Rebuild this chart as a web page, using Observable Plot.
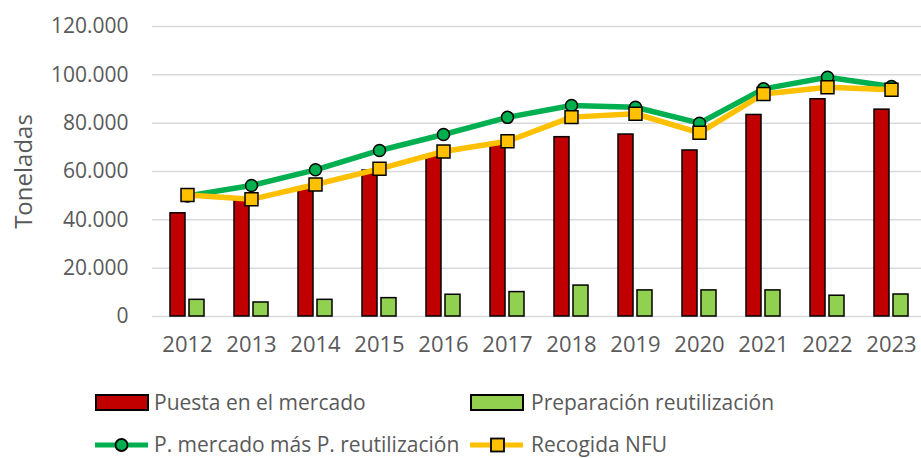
<!DOCTYPE html>
<html>
<head>
<meta charset="utf-8">
<script src="https://cdn.jsdelivr.net/npm/d3@7"></script>
<script src="https://cdn.jsdelivr.net/npm/@observablehq/plot@0.6"></script>
<style>
  html, body { margin: 0; padding: 0; background: white; overflow: hidden; width: 921px; height: 458px; }
  #chart { position: relative; width: 921px; height: 458px; }
  .leg { position: absolute; font-family: "Open Sans", sans-serif; font-size: 21px; color: #595959; white-space: nowrap; line-height: 24px; }
  .sw { position: absolute; }
</style>
</head>
<body>
<div id="chart"></div>
<script>
const years = ["2012","2013","2014","2015","2016","2017","2018","2019","2020","2021","2022","2023"];
const puestaMercado = [42700, 48000, 53500, 60400, 66600, 71500, 74200, 75300, 68700, 83400, 89900, 85600];
const prepReutilizacion = [6900, 5800, 6900, 7600, 9000, 10100, 12800, 10800, 10800, 10800, 8600, 9100];
const mercadoMasReutil = [49900, 54200, 60700, 68700, 75300, 82400, 87300, 86600, 80000, 94200, 99000, 95200];
const recogidaNFU = [50300, 48500, 54600, 61100, 68300, 72500, 82500, 83900, 76000, 92100, 94900, 93800];
const yTicks = [0, 20000, 40000, 60000, 80000, 100000, 120000];
const seriesNames = ["Puesta en el mercado", "Preparación reutilización", "P. mercado más P. reutilización", "Recogida NFU"];
const yTitle = "Toneladas";

const data = years.map((year, i) => ({
  year,
  puesta: puestaMercado[i],
  reutil: prepReutilizacion[i],
  suma: mercadoMasReutil[i],
  recogida: recogidaNFU[i]
}));

const fmt = d => d3.format(",")(d).replace(/,/g, ".");

const plot = Plot.plot({
  width: 921,
  height: 380,
  marginTop: 26,
  marginBottom: 64,
  marginLeft: 152,
  marginRight: 0,
  style: { fontFamily: "Open Sans, sans-serif", fontSize: "21px", color: "#595959", background: "white", overflow: "hidden" },
  x: { type: "band", domain: years, range: [151.7, 925.7], padding: 0 },
  y: { domain: [0, 120000] },
  marks: [
    Plot.gridY(yTicks, { stroke: "#d9d9d9", strokeOpacity: 1, strokeWidth: 1.5 }),
    Plot.axisY(yTicks, { tickSize: 0, tickPadding: 24, tickFormat: fmt, label: null, fill: "#595959" }),
    Plot.axisX({ tickSize: 0, tickPadding: 20, label: null, fontSize: 22, fill: "#595959" }),
    Plot.text([yTitle], { frameAnchor: "left", textAnchor: "middle", lineAnchor: "middle", dx: -128, rotate: -90, text: d => d, fontSize: 24, fill: "#595959" }),
    Plot.barY(data, { x: "year", y: "puesta", fill: "#C00000", stroke: "black", strokeWidth: 1.5, insetLeft: 15, insetRight: 34 }),
    Plot.barY(data, { x: "year", y: "reutil", fill: "#92D050", stroke: "black", strokeWidth: 1.5, insetLeft: 34, insetRight: 15 }),
    Plot.lineY(data, { x: "year", y: "suma", stroke: "#00B050", strokeWidth: 5.5 }),
    Plot.dot(data, { x: "year", y: "suma", r: 6, fill: "#00B050", stroke: "black", strokeWidth: 1.5 }),
    Plot.lineY(data, { x: "year", y: "recogida", stroke: "#FFC000", strokeWidth: 5.5 }),
    Plot.dot(data, { x: "year", y: "recogida", symbol: "square", r: 7.3, fill: "#FFC000", stroke: "black", strokeWidth: 1.5 })
  ]
});

const chart = document.getElementById("chart");
chart.appendChild(plot);

function addLegend(left, cy, swatchSvg, textLeft, label) {
  const sw = document.createElement("div");
  sw.className = "sw";
  sw.style.left = left + "px";
  sw.style.top = (cy - 10) + "px";
  sw.innerHTML = swatchSvg;
  chart.appendChild(sw);
  const t = document.createElement("div");
  t.className = "leg";
  t.style.left = textLeft + "px";
  t.style.top = (cy - 13) + "px";
  t.textContent = label;
  chart.appendChild(t);
}
const rectSw = fill => `<svg width="56" height="20"><rect x="1" y="2" width="52" height="15" fill="${fill}" stroke="black" stroke-width="2"/></svg>`;
const circleSw = `<svg width="56" height="20"><line x1="0" x2="53" y1="10" y2="10" stroke="#00B050" stroke-width="5"/><circle cx="26.5" cy="10" r="6" fill="#00B050" stroke="black" stroke-width="1.8"/></svg>`;
const squareSw = `<svg width="56" height="20"><line x1="0" x2="53" y1="10" y2="10" stroke="#FFC000" stroke-width="5"/><rect x="21" y="3.5" width="13" height="13" fill="#FFC000" stroke="black" stroke-width="1.8"/></svg>`;

addLegend(95, 403, rectSw("#C00000"), 154, seriesNames[0]);
addLegend(470, 403, rectSw("#92D050"), 531, seriesNames[1]);
addLegend(95, 445, circleSw, 154, seriesNames[2]);
addLegend(470, 445, squareSw, 531, seriesNames[3]);
</script>
</body>
</html>
